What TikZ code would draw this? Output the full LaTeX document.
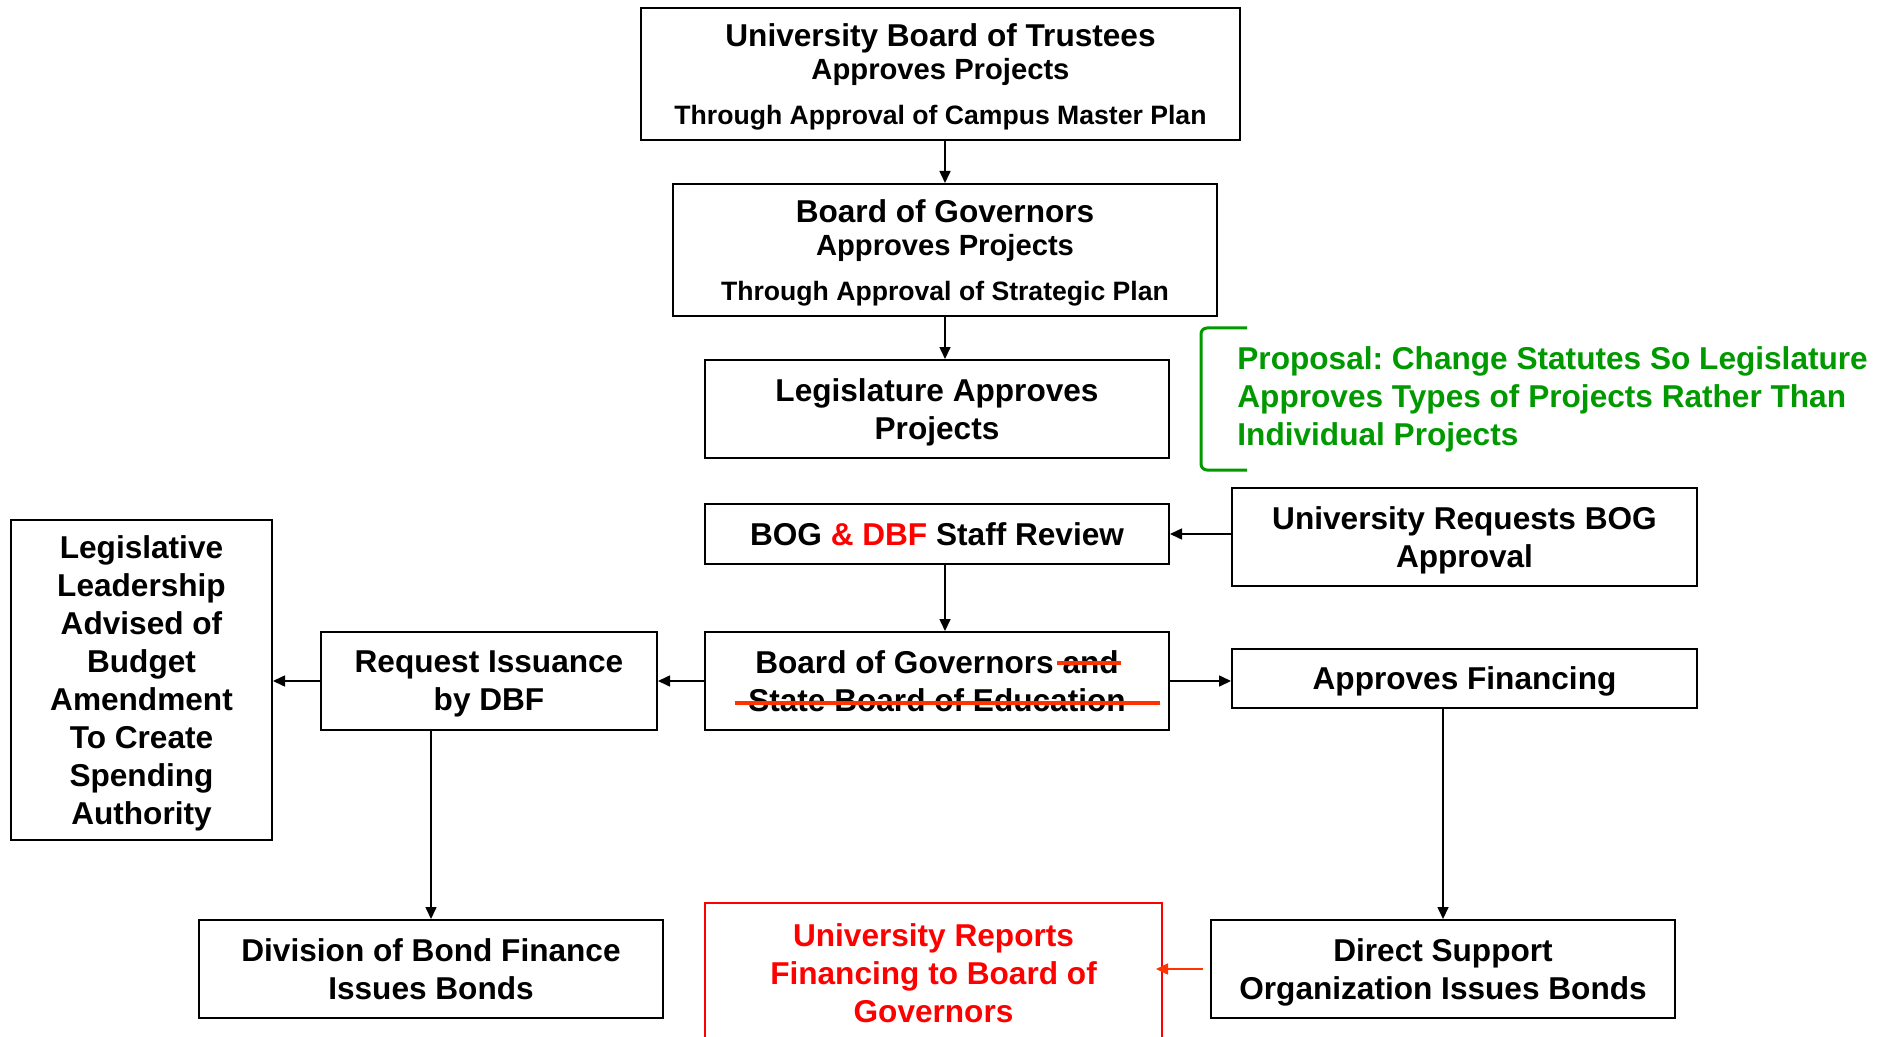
\documentclass[tikz,border=0pt]{standalone}
\usepackage{fontspec}
\setmainfont{Liberation Sans}
\usetikzlibrary{arrows.meta}
\definecolor{propgreen}{RGB}{0,153,0}
\definecolor{strikered}{RGB}{255,51,0}
\frenchspacing
\begin{document}
\begin{tikzpicture}[x=0.5pt,y=-0.5pt,
  box/.style={draw=black, line width=1pt, align=center, inner sep=0pt, text depth=0pt,
    font=\bfseries\fontsize{15.8}{19}\selectfont},
  tribox/.style={box, font=\bfseries\fontsize{15.8}{16.5}\selectfont},
  arr/.style={line width=0.8pt, -{Triangle[length=6pt,width=5.5pt]}},
  strike/.style={draw=strikered, line width=2pt},
  ]
\useasboundingbox (0,0) rectangle (1898,1037);
\fill[white] (0,0) rectangle (1898,1037);

% approval chain
\node[tribox, minimum width=299.5pt, minimum height=66pt] (ubt) at (940.5,74)
  {University Board of Trustees\\{\fontsize{14.6}{16.5}\selectfont Approves Projects}\\[6pt]%
   {\fontsize{13.3}{16.5}\selectfont Through Approval of Campus Master Plan}};
\node[tribox, minimum width=272pt, minimum height=66pt] (bog) at (945,250)
  {Board of Governors\\{\fontsize{14.6}{16.5}\selectfont Approves Projects}\\[6pt]%
   {\fontsize{13.3}{16.5}\selectfont Through Approval of Strategic Plan}};
\node[box, minimum width=232pt, minimum height=49pt] (leg) at (937,409)
  {Legislature Approves\\Projects};
\node[box, minimum width=232pt, minimum height=30pt] (rev) at (937,534)
  {BOG {\color{red}\& DBF} Staff Review};
\node[box, minimum width=232.5pt, minimum height=49pt] (ureq) at (1464.5,537)
  {University Requests BOG\\Approval};
\node[box, minimum width=232pt, minimum height=49pt] (bog2) at (937,681)
  {Board of Governors and\\State Board of Education};
\node[box, minimum width=232.5pt, minimum height=29.5pt] (fin) at (1464.5,678.5)
  {Approves Financing};
\node[box, minimum width=168pt, minimum height=49pt] (req) at (489,681)
  {Request Issuance\\by DBF};
\node[box, minimum width=130.5pt, minimum height=160pt] (lla) at (141.5,680)
  {Legislative\\Leadership\\Advised of\\Budget\\Amendment\\To Create\\Spending\\Authority};
\node[box, minimum width=232pt, minimum height=49pt] (dbf) at (431,969)
  {Division of Bond Finance\\Issues Bonds};
\node[box, minimum width=232pt, minimum height=49pt] (dso) at (1443,969)
  {Direct Support\\Organization Issues Bonds};
\node[box, draw=red, text=red, minimum width=228.5pt, minimum height=70pt] (urep) at (933.5,973)
  {University Reports\\Financing to Board of\\Governors};

% proposal note with bracket
\draw[propgreen, line width=1.5pt, rounded corners=3pt]
  (1247,328) -- (1201,328) -- (1201,470) -- (1247,470);
\node[anchor=west, align=left, inner sep=0pt, text depth=0pt, text=propgreen,
  font=\bfseries\fontsize{15.8}{19}\selectfont] (prop) at (1237,396)
  {Proposal: Change Statutes So Legislature\\Approves Types of Projects Rather Than\\Individual Projects};

% struck-out wording
\draw[strike] (1057,663) -- (1121,663);
\draw[strike] (735,703) -- (1160,703);

% connectors
\draw[arr] (bog.north |- ubt.south) -- (bog.north);
\draw[arr] (bog.south) -- (bog.south |- leg.north);
\draw[arr] (ureq.west |- rev.east) -- (rev.east);
\draw[arr] (rev.south -| bog.south) -- (bog2.north -| bog.south);
\draw[arr] (bog2.west) -- (req.east);
\draw[arr] (bog2.east) -- (fin.west |- bog2.east);
\draw[arr] (req.west) -- (lla.east |- req.west);
\draw[arr] (req.south -| dbf.north) -- (dbf.north);
\draw[arr] (fin.south -| dso.north) -- (dso.north);
\draw[arr, strikered, shorten <=3.5pt, shorten >=-3.5pt] (dso.west) -- (urep.east |- dso.west);
\end{tikzpicture}
\end{document}
